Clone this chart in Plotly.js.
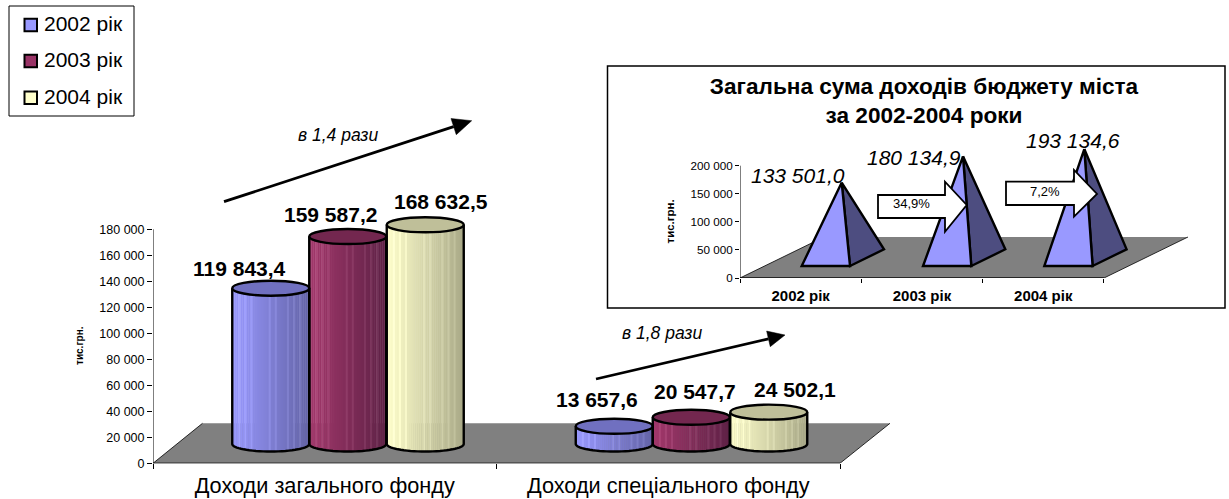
<!DOCTYPE html>
<html><head><meta charset="utf-8">
<script src="https://cdn.plot.ly/plotly-3.0.1.min.js"></script>
<style>html,body{margin:0;padding:0;background:#fff}#c{width:1229px;height:499px}</style>
</head><body><div id="c"></div>
<script>
// ---------- data ----------
const seriesNames = ['2002 рік', '2003 рік', '2004 рік'];
const categories = ['Доходи загального фонду', 'Доходи спеціального фонду'];
const generalFund = [119843.4, 159587.2, 168632.5];
const specialFund = [13657.6, 20547.7, 24502.1];
const totalYears = ['2002 рік', '2003 рік', '2004 рік'];
const totalValues = [133501.0, 180134.9, 193134.6];
const yTicksMain = [0,20000,40000,60000,80000,100000,120000,140000,160000,180000];
const yTicksInset = [0,50000,100000,150000,200000];
const growthLabels = ['в 1,4 рази', 'в 1,8 рази'];
const changeLabels = ['34,9%', '7,2%'];
const insetTitle = 'Загальна сума доходів бюджету міста<br>за 2002-2004 роки';
const axisUnit = 'тис.грн.';

// ---------- styles ----------
const W = 1229, H = 499, FONT = '"Liberation Sans", Arial, sans-serif';
const leftShade = ['#9999FF', '#A3386C', '#FFFFCC'];
const rightShade = ['#6363A6', '#5E2145', '#A9A987'];
const capColor = ['#7070C0', '#73274F', '#BFBF99'];
const swatch = ['#9999FF', '#993366', '#FFFFCC'];
const stripes = [3,6,9,18,21,27,30,33];
const px = x => x / W, py = y => 1 - y / H;

// main chart geometry (pixels → axis units)
const M = {x0:153, unit:343.5, y0:463.3, top:229.3, dom:[153,892], domTop:180};
const mPerK = (M.y0 - M.top) / 180000;
const mx = p => -0.5 + (p - M.x0) / M.unit;
const mv = p => (M.y0 - p) / mPerK;
const barHalf = 38.5 / M.unit, capB = 7.5 / mPerK, floorBase = (M.y0 - 444) / mPerK;
const barShift = [-54 / M.unit, 23 / M.unit, 100.5 / M.unit];
const SL = 38;

function hex(c){return [1,3,5].map(i=>parseInt(c.substr(i,2),16));}
function mix(a,b,t,boost){const A=hex(a),B=hex(b);return 'rgb('+A.map((v,i)=>Math.min(255,Math.round(v+(B[i]-v)*t+boost))).join(',')+')';}

const traces = [];
seriesNames.forEach((name, s) => {
  const x=[],y=[],base=[],off=[],wid=[],col=[];
  [generalFund, specialFund].forEach((vals, c) => {
    for (let i=0;i<SL;i++){
      const u0=i/SL, um=(i+.5)/SL, u=2*um-1, e=Math.sqrt(Math.max(0,1-u*u));
      const b=floorBase-capB*e;
      x.push(categories[c]); base.push(b); y.push(vals[s]+floorBase-b);
      off.push(barShift[s]-barHalf+2*barHalf*u0);
      wid.push(2*barHalf/SL+0.0012);
      col.push(mix(leftShade[s],rightShade[s],um,stripes.includes(i)?14:0));
    }
  });
  traces.push({type:'bar',name,x,y,base,offset:off,width:wid,
    marker:{color:col,line:{width:0}},showlegend:false,hoverinfo:'skip',xaxis:'x',yaxis:'y'});
});

// inset geometry
const I = {x0:740, unit:121.3, y0:278, top:165.7, dom:[740,1190], domTop:130};
const iPerK = (I.y0 - I.top) / 200000;
const ix = p => -0.5 + (p - I.x0) / I.unit;
const iv = p => (I.y0 - p) / iPerK;
const pyrBase = iv(257.5);
traces.push({type:'scatter',mode:'markers',x:totalYears,y:totalValues.map(v=>v+pyrBase),
  marker:{opacity:0,size:1},showlegend:false,hoverinfo:'skip',name:'Загальна сума',xaxis:'x2',yaxis:'y2'});
totalValues.forEach((v,k)=>{
  const step=k*I.unit, apex=[ix(841.7+step),v+pyrBase],
    fl=[ix(801.7+step),iv(266)], fr=[ix(850+step),iv(266)], br=[ix(884+step),iv(249.3)];
  [[[apex,fr,br,apex],'#4D4D80'],[[apex,fl,fr,apex],'#9999FF']].forEach(([pts,color])=>{
    traces.push({type:'scatter',mode:'lines',x:pts.map(p=>p[0]),y:pts.map(p=>p[1]),fill:'toself',
      fillcolor:color,line:{color:'#000',width:2.4,simplify:false},showlegend:false,hoverinfo:'skip',
      name:totalYears[k],xaxis:'x3',yaxis:'y2'});
  });
});

// ---------- shapes ----------
const shapes = [];
function pPath(pts,close){return pts.map((p,i)=>(i?'L':'M')+p[0]+','+p[1]).join(' ')+(close?' Z':'');}
const paperPath = (pts,fill,lw,close,layer)=>({type:'path',xref:'paper',yref:'paper',layer:layer||'above',
  path:pPath(pts.map(p=>[px(p[0]),py(p[1])]),close),fillcolor:fill,line:{color:'#000',width:lw}});

// inset panel
shapes.push({type:'rect',xref:'paper',yref:'paper',x0:px(607.5),x1:px(1225),y0:py(308),y1:py(66),layer:'below',
  fillcolor:'#fff',line:{color:'#000',width:1.5}});
// main floor + axes
shapes.push({type:'path',xref:'x',yref:'y',layer:'below',fillcolor:'#808080',line:{color:'#000',width:0.8},
  path:pPath([[mx(202.5),mv(423.3)],[mx(153),0],[mx(840),0],[mx(890),mv(423.3)]])});
shapes.push({type:'line',xref:'x',yref:'y',x0:-0.5,x1:-0.5,y0:0,y1:180000,layer:'below',line:{color:'#000',width:1}});
shapes.push({type:'line',xref:'x',yref:'y',x0:-0.5,x1:1.5,y0:0,y1:0,layer:'below',line:{color:'#000',width:1}});
// inset floor + axes
shapes.push({type:'path',xref:'x3',yref:'y2',layer:'below',fillcolor:'#808080',line:{color:'#000',width:0.8},
  path:pPath([[ix(824),iv(237)],[ix(740),0],[ix(1104),0],[ix(1188),iv(237)]])});
shapes.push({type:'line',xref:'x3',yref:'y2',x0:-0.5,x1:-0.5,y0:0,y1:200000,layer:'below',line:{color:'#000',width:1}});
shapes.push({type:'line',xref:'x3',yref:'y2',x0:-0.5,x1:2.5,y0:0,y1:0,layer:'below',line:{color:'#000',width:1}});

// cylinder outlines and caps
[generalFund, specialFund].forEach((vals,c)=>{
  vals.forEach((v,s)=>{
    const cx=c+barShift[s], top=v+floorBase, pts=[[cx-barHalf,top]];
    for(let i=0;i<=32;i++){const t=Math.PI*i/32;
      pts.push([cx-barHalf*Math.cos(t),floorBase-capB*Math.sin(t)]);}
    pts.push([cx+barHalf,top]);
    shapes.push({type:'path',xref:'x',yref:'y',path:pPath(pts),fillcolor:'rgba(0,0,0,0)',line:{color:'#000',width:2.4}});
    shapes.push({type:'circle',xref:'x',yref:'y',x0:cx-barHalf,x1:cx+barHalf,y0:top-capB,y1:top+capB,
      fillcolor:capColor[s],line:{color:'#000',width:2.4}});
  });
});

// growth arrows
function thinArrow(t,h,len,half){
  const dx=h[0]-t[0],dy=h[1]-t[1],L=Math.hypot(dx,dy),ux=dx/L,uy=dy/L;
  const bx=h[0]-ux*len,by=h[1]-uy*len;
  shapes.push(paperPath([t,[bx,by]],'rgba(0,0,0,0)',2.8));
  shapes.push(paperPath([h,[bx-uy*half,by+ux*half],[bx+uy*half,by-ux*half]],'#000',0.5,true));
}
thinArrow([224,201.7],[471.7,120.7],19,8.5);
thinArrow([596,379],[785,335],17,8);

// block arrows in inset
function block(x0,xn,tip,yt,yb,hT,hB,yc){
  shapes.push(paperPath([[x0,yt],[xn,yt],[xn,hT],[tip,yc],[xn,hB],[xn,yb],[x0,yb]],'#fff',1.8,true));
}
block(878,945,966.7,195,218,181.7,231.7,205);
block(1006,1074,1097,181.7,205,170,216.7,194);

// legend box
shapes.push({type:'rect',xref:'paper',yref:'paper',x0:px(9),x1:px(134),y0:py(116),y1:py(6),fillcolor:'#fff',line:{color:'#000',width:1}});
const legendY=[25,61,97.7];
seriesNames.forEach((n,i)=>shapes.push({type:'rect',xref:'paper',yref:'paper',x0:px(24.5),x1:px(37),
  y0:py(legendY[i]+6.3),y1:py(legendY[i]-6.3),fillcolor:swatch[i],line:{color:'#000',width:2}}));

// ---------- text ----------
const ann=[];
const fmt=v=>{const [a,b]=v.toFixed(1).split('.');return a.replace(/\B(?=(\d{3})+$)/g,' ')+','+b;};
function txt(text,x,y,size,opt){ann.push(Object.assign({text,xref:'paper',yref:'paper',x:px(x),y:py(y),showarrow:false,
  xanchor:'center',yanchor:'middle',font:{family:FONT,size,color:'#000'},borderpad:0},opt||{}));}
seriesNames.forEach((n,i)=>txt(n,42.5,legendY[i]-1.5,21,{xanchor:'left'}));
const labelPos=[[239.5,268],[330.5,214],[440.5,202],[597,399.7],[694.5,391.7],[795,389]];
generalFund.concat(specialFund).forEach((v,i)=>txt('<b>'+fmt(v)+'</b>',labelPos[i][0],labelPos[i][1],21));
const totalPos=[[798,175.7],[914,157],[1073,140.7]];
totalValues.forEach((v,i)=>txt('<i>'+fmt(v)+'</i>',totalPos[i][0],totalPos[i][1],21));
txt('<i>'+growthLabels[0]+'</i>',338,135,17.5);
txt('<i>'+growthLabels[1]+'</i>',661.7,333,17.5);
txt(changeLabels[0],911,204,13);
txt(changeLabels[1],1045,192,13);
txt('<b>'+axisUnit+'</b>',79,346,10,{textangle:-90});
txt('<b>'+axisUnit+'</b>',669.5,222,11.5,{textangle:-90});

const axBase={showgrid:false,zeroline:false,showline:false,ticks:'outside',tickcolor:'#000',tickwidth:1,
  automargin:false,fixedrange:true};
const layout={
  width:W,height:H,margin:{l:0,r:0,t:0,b:0},paper_bgcolor:'#fff',plot_bgcolor:'rgba(0,0,0,0)',
  barmode:'overlay',showlegend:false,separators:', ',hovermode:false,
  font:{family:FONT,color:'#000'},
  title:{text:'<b>'+insetTitle+'</b>',font:{family:FONT,size:22.6,color:'#000'},xref:'paper',yref:'paper',
    x:px(924),xanchor:'center',y:py(94),yanchor:'middle'},
  xaxis:Object.assign({},axBase,{type:'category',categoryorder:'array',categoryarray:categories,tickson:'boundaries',
    domain:[px(M.dom[0]),px(M.dom[1])],range:[-0.5,mx(M.dom[1])],anchor:'y',ticklen:5,
    tickfont:{family:FONT,size:21.7,color:'#000'},ticklabelstandoff:7}),
  yaxis:Object.assign({},axBase,{domain:[py(M.y0),py(M.domTop)],range:[0,mv(M.domTop)],anchor:'x',
    tickvals:yTicksMain,tickformat:',d',ticklen:5,tickfont:{family:FONT,size:12.5,color:'#000'}}),
  xaxis2:Object.assign({},axBase,{type:'category',categoryorder:'array',categoryarray:totalYears,tickson:'boundaries',
    domain:[px(I.dom[0]),px(I.dom[1])],range:[-0.5,ix(I.dom[1])],anchor:'y2',ticklen:4,
    tickfont:{family:FONT,size:15,weight:700,color:'#000'},ticklabelstandoff:7}),
  yaxis2:Object.assign({},axBase,{domain:[py(I.y0),py(I.domTop)],range:[0,iv(I.domTop)],anchor:'x2',
    tickvals:yTicksInset,tickformat:',d',ticklen:4,tickfont:{family:FONT,size:11.7,color:'#000'}}),
  xaxis3:{overlaying:'x2',anchor:'y2',visible:false,type:'linear',domain:[px(I.dom[0]),px(I.dom[1])],
    range:[-0.5,ix(I.dom[1])],fixedrange:true},
  shapes,annotations:ann
};
Plotly.newPlot('c',traces,layout,{displayModeBar:false,responsive:false});
</script></body></html>
